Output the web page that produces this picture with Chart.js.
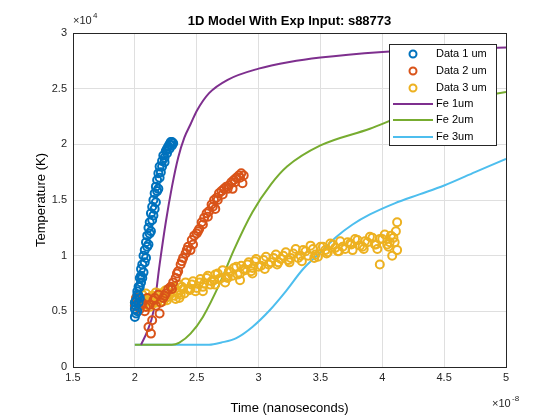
<!DOCTYPE html>
<html>
<head>
<meta charset="utf-8">
<script src="https://cdn.jsdelivr.net/npm/chart.js@4.4.0/dist/chart.umd.min.js"></script>
<style>
  body { margin: 0; background: #fff; }
  #wrap { width: 560px; height: 420px; }
</style>
</head>
<body>
<div id="wrap"><canvas id="c" width="560" height="420"></canvas></div>
<script>
// x in units of 1e-8 s, y in units of 1e4 K
var data1X = [2.00,2.00,2.01,2.01,2.02,2.02,2.03,2.03,2.04,2.04,2.05,2.05,2.06,2.07,2.07,2.08,2.09,2.09,2.10,2.11,2.11,2.12,2.13,2.13,2.14,2.15,2.15,2.16,2.17,2.17,2.18,2.19,2.19,2.20,2.21,2.22,2.23,2.24,2.25,2.26,2.27,2.28,2.29,2.30,2.31,
              2.00,2.01,2.02,2.03,2.04,2.05,2.06,2.08,2.10,2.12,2.14,2.16,2.18,2.20,2.22,2.24,2.26,2.28,2.30];
var data1Y = [0.45,0.52,0.60,0.55,0.68,0.50,0.72,0.64,0.80,0.62,0.76,0.88,0.92,0.85,1.00,1.05,0.98,1.12,1.18,1.10,1.25,1.30,1.22,1.38,1.44,1.36,1.50,1.56,1.48,1.62,1.68,1.60,1.74,1.80,1.75,1.85,1.90,1.88,1.94,1.96,1.98,2.00,2.02,2.02,2.01,
              0.58,0.48,0.65,0.58,0.72,0.82,0.80,0.94,1.08,1.20,1.32,1.42,1.58,1.70,1.80,1.84,1.92,1.96,1.99];

var data2X = [2.00,2.02,2.04,2.06,2.08,2.10,2.11,2.12,2.13,2.14,2.15,2.17,2.19,2.20,2.21,2.23,2.25,2.27,2.29,2.31,2.33,2.35,2.37,2.39,2.41,2.43,2.45,2.46,2.48,2.50,2.52,2.54,2.56,2.58,2.60,2.62,2.64,2.65,2.66,2.68,2.70,2.72,2.74,2.76,2.78,2.79,2.80,2.82,2.84,2.86,2.87,2.88,
              2.01,2.05,2.09,2.16,2.24,2.30,2.34,2.38,2.42,2.47,2.51,2.55,2.59,2.63,2.67,2.71,2.75,2.81,2.85];
var data2Y = [0.55,0.60,0.52,0.58,0.50,0.62,0.36,0.56,0.30,0.42,0.60,0.55,0.65,0.48,0.58,0.62,0.66,0.70,0.72,0.76,0.80,0.86,0.92,0.98,1.02,1.08,1.05,1.14,1.18,1.20,1.24,1.30,1.34,1.38,1.40,1.46,1.50,1.42,1.52,1.56,1.58,1.60,1.62,1.63,1.66,1.60,1.68,1.70,1.72,1.74,1.65,1.72,
              0.62,0.56,0.54,0.62,0.64,0.70,0.84,0.95,1.05,1.10,1.22,1.28,1.35,1.44,1.50,1.55,1.60,1.66,1.70];

var data3X = [2.00,2.01,2.03,2.04,2.06,2.08,2.10,2.12,2.14,2.16,2.18,2.20,2.22,2.24,2.26,2.28,2.30,2.32,2.34,2.36,2.38,2.40,2.43,2.46,2.49,2.52,2.55,2.58,2.61,2.64,2.67,2.70,2.73,2.76,2.79,2.82,2.85,2.88,2.91,2.94,2.97,3.00,3.04,3.08,3.12,3.16,3.20,3.24,3.28,3.32,3.36,3.40,3.44,3.48,3.52,3.56,3.60,3.64,3.68,3.72,3.76,3.80,3.84,3.88,3.92,3.96,4.00,4.04,4.07,4.10,4.11,4.12,4.12,4.08,3.98,
              2.02,2.05,2.07,2.09,2.11,2.13,2.15,2.17,2.19,2.21,2.23,2.25,2.27,2.29,2.31,2.33,2.35,2.37,2.39,2.41,2.44,2.47,2.50,2.53,2.56,2.59,2.62,2.65,2.68,2.71,2.74,2.77,2.80,2.83,2.86,2.89,2.92,2.95,2.98,3.02,3.06,3.10,3.14,3.18,3.22,3.26,3.30,3.34,3.38,3.42,3.46,3.50,3.54,3.58,3.62,3.66,3.70,3.74,3.78,3.82,3.86,3.90,3.94,3.98,4.02,4.06,4.09,
              2.05,2.15,2.25,2.35,2.45,2.55,2.65,2.75,2.85,2.95,3.05,3.15,3.25,3.35,3.45,3.55,3.65,3.75,3.85,3.95,4.05];
var data3Y = [0.58,0.62,0.55,0.60,0.65,0.57,0.62,0.54,0.64,0.60,0.58,0.66,0.62,0.68,0.60,0.65,0.70,0.64,0.68,0.62,0.72,0.66,0.70,0.74,0.68,0.76,0.72,0.80,0.74,0.78,0.84,0.80,0.76,0.86,0.82,0.90,0.84,0.88,0.92,0.86,0.95,0.90,0.96,0.92,0.98,0.94,1.00,0.96,1.02,0.98,1.05,1.00,1.06,0.99,1.08,1.03,1.10,1.04,1.08,1.12,1.05,1.14,1.08,1.12,1.16,1.06,1.15,1.10,1.18,1.12,1.22,1.30,1.05,1.00,0.92,
              0.62,0.56,0.61,0.66,0.59,0.63,0.57,0.67,0.61,0.64,0.59,0.69,0.63,0.66,0.72,0.61,0.74,0.65,0.70,0.76,0.69,0.77,0.71,0.79,0.75,0.82,0.77,0.83,0.79,0.87,0.81,0.85,0.89,0.83,0.91,0.87,0.94,0.89,0.97,0.91,0.99,0.94,1.01,0.97,1.03,0.98,1.06,1.00,1.04,1.09,1.01,1.08,1.05,1.11,1.07,1.13,1.06,1.11,1.15,1.09,1.13,1.17,1.10,1.15,1.19,1.12,1.16,
              0.55,0.58,0.62,0.66,0.70,0.68,0.74,0.80,0.78,0.84,0.88,0.92,0.94,0.95,0.98,1.02,1.04,1.10,1.06,1.10,1.08];

var fe1X = [2.05,2.10,2.15,2.20,2.25,2.30,2.35,2.40,2.45,2.50,2.60,2.75,3.00,3.25,3.50,4.00,4.50,5.00];
var fe1Y = [0.20,0.32,0.50,0.92,1.30,1.62,1.88,2.06,2.18,2.30,2.46,2.58,2.68,2.74,2.78,2.83,2.86,2.87];
var fe2X = [2.00,2.30,2.36,2.45,2.55,2.69,2.80,2.95,3.10,3.23,3.50,3.90,4.20,4.50,4.75,5.00];
var fe2Y = [0.20,0.20,0.22,0.30,0.45,0.76,1.05,1.39,1.64,1.80,1.99,2.14,2.27,2.36,2.42,2.47];
var fe3X = [2.00,2.60,2.70,2.82,2.95,3.09,3.22,3.36,3.50,3.63,3.76,3.90,4.10,4.30,4.50,4.75,5.00];
var fe3Y = [0.20,0.20,0.22,0.26,0.36,0.51,0.68,0.88,1.03,1.17,1.28,1.37,1.47,1.55,1.63,1.75,1.87];

var legendLabels = ['Data 1 um', 'Data 2 um', 'Data 3 um', 'Fe 1um', 'Fe 2um', 'Fe 3um'];
var colors = ['#0072BD', '#D95319', '#EDB120', '#7E2F8E', '#77AC30', '#4DBEEE'];

function pts(xs, ys) {
    return xs.map(function(x, i) { return {x: x, y: ys[i]}; });
}

function scatterSet(i, xs, ys) {
    return {
        label: legendLabels[i], data: pts(xs, ys), showLine: false,
        borderColor: colors[i], backgroundColor: 'rgba(0,0,0,0)',
        pointRadius: 4, pointBorderWidth: 2, pointHoverRadius: 4
    };
}
function lineSet(i, xs, ys) {
    return {
        label: legendLabels[i], data: pts(xs, ys), showLine: true,
        borderColor: colors[i], borderWidth: 2, pointRadius: 0,
        cubicInterpolationMode: 'monotone', fill: false
    };
}

var font = 'Liberation Sans, Arial, sans-serif';

// Extra drawing: title, box, exponents, legend
var matlabDecor = {
    id: 'matlabDecor',
    afterDraw: function(chart) {
        var ctx = chart.ctx, a = chart.chartArea;
        ctx.save();
        ctx.strokeStyle = '#262626';
        ctx.lineWidth = 1;
        ctx.strokeRect(a.left + 0.5, a.top + 0.5, a.right - a.left, a.bottom - a.top);

        ctx.fillStyle = '#000';
        ctx.font = 'bold 13px ' + font;
        ctx.textAlign = 'center';
        ctx.textBaseline = 'alphabetic';
        ctx.fillText('1D Model With Exp Input: s88773', (a.left + a.right) / 2, 25);

        // exponents
        ctx.fillStyle = '#262626';
        ctx.textAlign = 'left';
        ctx.font = '11px ' + font;
        ctx.fillText('\u00d710', a.left, a.top - 9);
        ctx.font = '8px ' + font;
        ctx.fillText('4', a.left + 20, a.top - 15);
        ctx.font = '11px ' + font;
        ctx.fillText('\u00d710', a.right - 14, a.bottom + 40);
        ctx.font = '8px ' + font;
        ctx.fillText('-8', a.right + 6, a.bottom + 34);

        // legend
        var lx = 389, ly = 44, lw = 107, lh = 101;
        ctx.fillStyle = '#fff';
        ctx.fillRect(lx, ly, lw, lh);
        ctx.strokeStyle = '#262626';
        ctx.strokeRect(lx + 0.5, ly + 0.5, lw, lh);
        var rows = [54, 71, 88, 104, 120, 137];
        ctx.font = '11px ' + font;
        ctx.textBaseline = 'middle';
        for (var i = 0; i < legendLabels.length; i++) {
            ctx.strokeStyle = colors[i];
            ctx.lineWidth = 2;
            if (i < 3) {
                ctx.beginPath();
                ctx.arc(413, rows[i], 3.5, 0, Math.PI * 2);
                ctx.stroke();
            } else {
                ctx.beginPath();
                ctx.moveTo(393, rows[i]);
                ctx.lineTo(433, rows[i]);
                ctx.stroke();
            }
            ctx.fillStyle = '#000';
            ctx.fillText(legendLabels[i], 436, rows[i]);
        }
        ctx.restore();
    }
};

new Chart(document.getElementById('c').getContext('2d'), {
    type: 'scatter',
    data: {
        datasets: [
            scatterSet(0, data1X, data1Y),
            scatterSet(1, data2X, data2Y),
            scatterSet(2, data3X, data3Y),
            lineSet(3, fe1X, fe1Y),
            lineSet(4, fe2X, fe2Y),
            lineSet(5, fe3X, fe3Y)
        ]
    },
    options: {
        responsive: false,
        animation: false,
        layout: { padding: { top: 33, right: 54, left: 30, bottom: 0 } },
        plugins: { legend: { display: false }, tooltip: { enabled: false } },
        scales: {
            x: {
                type: 'linear', min: 1.5, max: 5,
                ticks: { stepSize: 0.5, color: '#262626', font: { size: 11, family: font }, padding: 4,
                         callback: function(v) { return String(v); } },
                grid: { color: '#dfdfdf', tickLength: 0 },
                border: { color: '#262626' },
                title: { display: true, text: 'Time (nanoseconds)', color: '#000', font: { size: 13, family: font }, padding: { top: 2 } },
                afterFit: function(s) { s.height = 53; }
            },
            y: {
                min: 0, max: 3,
                ticks: { stepSize: 0.5, color: '#262626', font: { size: 11, family: font }, padding: 6,
                         callback: function(v) { return String(v); } },
                grid: { color: '#dfdfdf', tickLength: 0 },
                border: { color: '#262626' },
                title: { display: true, text: 'Temperature (K)', color: '#000', font: { size: 13, family: font } },
                afterFit: function(s) { s.width = 43; }
            }
        }
    },
    plugins: [matlabDecor]
});
</script>
</body>
</html>
